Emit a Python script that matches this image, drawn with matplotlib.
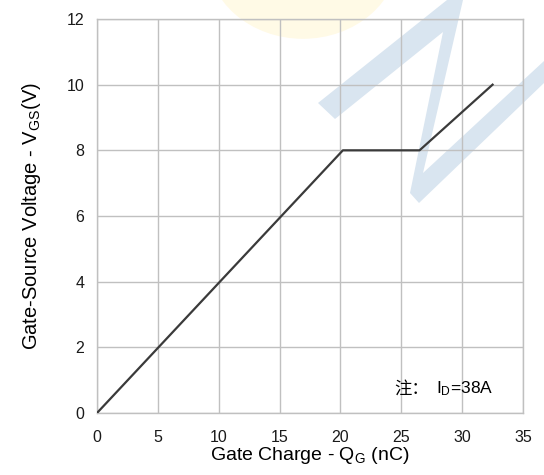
import matplotlib
matplotlib.use('Agg')
import matplotlib.pyplot as plt
from matplotlib.patches import Polygon, Circle

plt.rcParams['font.family'] = ['Liberation Sans', 'DejaVu Sans']
plt.rcParams['mathtext.fontset'] = 'custom'
plt.rcParams['mathtext.rm'] = 'Liberation Sans'
plt.rcParams['mathtext.default'] = 'regular'

# gate charge curve (nC, V)
qg = [0, 20.2, 26.5, 32.5]
vgs = [0, 8.0, 8.0, 10.0]
x_ticks = [0, 5, 10, 15, 20, 25, 30, 35]
y_ticks = [0, 2, 4, 6, 8, 10, 12]

W, H = 544, 475
fig = plt.figure(figsize=(W / 100, H / 100), dpi=100)
ax = fig.add_axes([97 / W, 1 - 413 / H, 426 / W, 394 / H])
ax.set_facecolor('none')
ax.set_zorder(2)

# faint watermark behind the plot (pixel coords, y down)
def px(pts):
    return [(x / W, 1 - y / H) for x, y in pts]

fig.patches.append(Circle((303 / W, 1 + 45 / H), 96 / W, transform=fig.transFigure,
                          facecolor='#fffae6', edgecolor='none', zorder=0))
fig.patches.append(Polygon(px([(318, 103), (447, 0), (463, 0), (423, 173), (544, 61),
                               (544, 83), (419, 203), (410, 193), (443, 32), (335, 119)]),
                           transform=fig.transFigure, facecolor='#d9e5f0',
                           edgecolor='none', zorder=0))

ax.plot(qg, vgs, color='#3a3a3a', lw=1.6, zorder=3)

ax.set_xlim(0, 35)
ax.set_ylim(0, 12)
ax.set_xticks(x_ticks)
ax.set_yticks(y_ticks)
ax.grid(True, color='#c0c0c0', lw=1.0)
ax.set_axisbelow(True)
for s in ax.spines.values():
    s.set_color('#c0c0c0')
    s.set_linewidth(1.0)
ax.tick_params(axis='both', length=0, labelsize=11.5, colors='#1a1a1a')
ax.tick_params(axis='x', pad=12)
ax.tick_params(axis='y', pad=9)

ax.set_xlabel('Gate Charge - Q$_G$ (nC)', fontsize=14, labelpad=0)
ax.set_ylabel('Gate-Source Voltage - V$_{GS}$(V)', fontsize=14.5, labelpad=17)

ax.text(24.4, 0.75, '注：', fontsize=12.5, family=['Noto Sans CJK SC', 'DejaVu Sans'],
        va='center', ha='left')
ax.text(27.85, 0.75, 'I$_D$=38A', fontsize=12.5, va='center', ha='left')

fig.savefig('out.png', dpi=100)
